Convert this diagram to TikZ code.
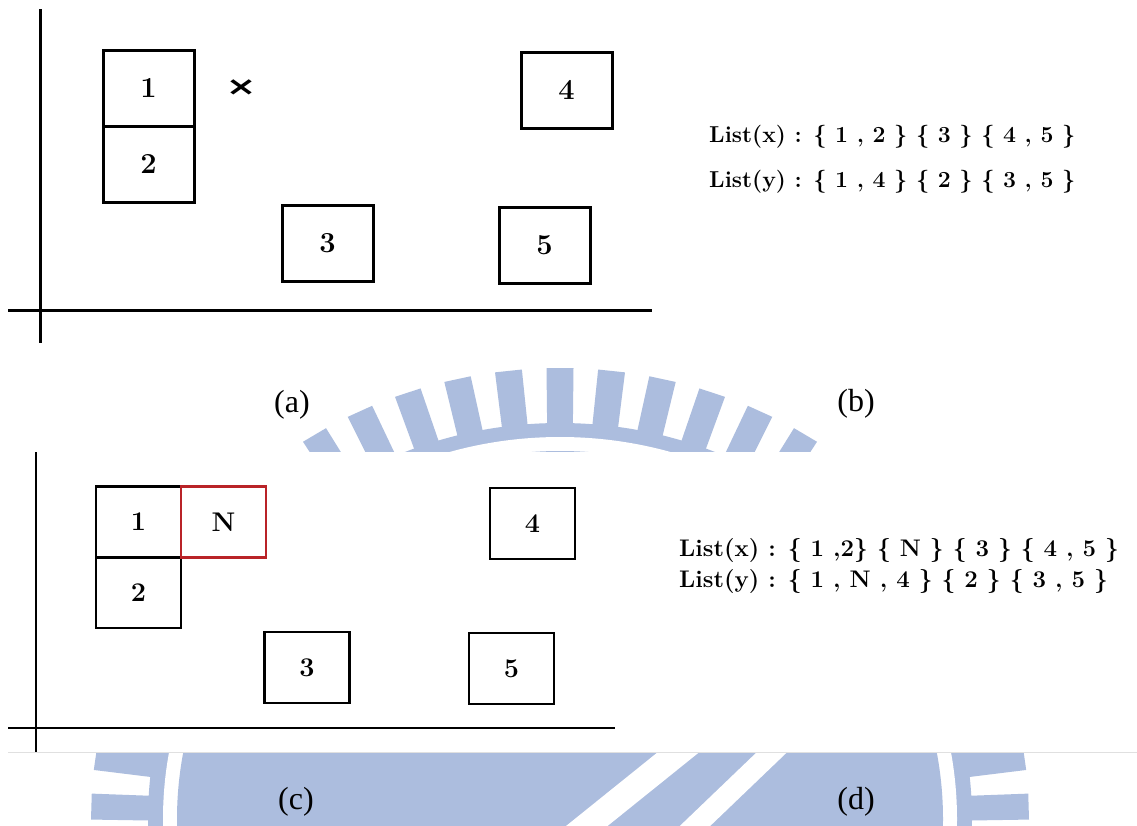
\documentclass[tikz,border=0pt]{standalone}
\usepackage{fontspec}
\newfontfamily\capfont{Liberation Serif}
\newfontfamily\symfont{DejaVu Sans}
\definecolor{wm}{RGB}{172,189,222}
\definecolor{newred}{RGB}{185,35,40}
\begin{document}
\begin{tikzpicture}[x=1pt,y=-1pt,
  axis/.style={line width=3pt, black},
  cell/.style={draw=black, line width=3pt, inner sep=0pt,
    minimum width=91pt, minimum height=76pt,
    font=\fontsize{29}{29}\selectfont\bfseries},
  smallcell/.style={cell, line width=2.8pt, minimum width=85pt, minimum height=71pt,
    font=\fontsize{27}{27}\selectfont\bfseries},
  listtxt/.style={anchor=west, inner sep=0pt, font=\fontsize{23}{23}\selectfont\bfseries},
  biglist/.style={listtxt, font=\fontsize{24}{24}\selectfont\bfseries},
  caption/.style={inner sep=0pt, font=\capfont\fontsize{32}{32}\selectfont},
  crossmark/.style={inner sep=0pt, font=\symfont\fontsize{26}{26}\selectfont\bfseries},
]
\useasboundingbox (0,0) rectangle (1137,825);
\fill[white] (0,0) rectangle (1137,825);

% faint seal behind the page
\begin{scope}[shift={(560,819)}]
  \fill[wm] (0,0) ellipse [x radius=412, y radius=396];
  \fill[white] (0,0) ellipse [x radius=397, y radius=382];
  \fill[wm] (0,0) ellipse [x radius=383, y radius=368];
  \begin{scope}
    \clip (0,0) ellipse [x radius=383, y radius=368];
    \draw[white, line width=26pt] (376,-274) -- (-233,216);
    \draw[white, line width=21pt] (428,-274) -- (-83,216);
  \end{scope}
  \foreach \k in {0,...,56}{
    \pgfmathsetmacro\a{270+6.3158*\k}
    \fill[wm] (\a-1.8:410 and 394) -- (\a-1.65:469 and 451)
      -- (\a+1.65:469 and 451) -- (\a+1.8:410 and 394) -- cycle;
  }
\end{scope}

% ---------- (a) ----------
\coordinate (ay0) at (40,9);   \coordinate (ay1) at (40,343);
\coordinate (ax0) at (8,310);  \coordinate (ax1) at (652,310);
\draw[axis] (ay0) -- (ay1);
\draw[axis] (ax0) -- (ax1);
\node[cell] (a1) at (148.5,88) {1};
\node[cell] (a2) at (148.5,164) {2};
\node[cell] (a3) at (327.5,243.5) {3};
\node[cell] (a4) at (566.5,90) {4};
\node[cell] (a5) at (544.5,245) {5};
\node[crossmark] (cross) at (241,88) {\scalebox{1.4}[1]{×}};

% ---------- (b) ----------
\node[listtxt] (bx) at (709,137) {List(x) : \{ 1 , 2 \} \{ 3 \} \{ 4 , 5 \}};
\node[listtxt] (by) at (709,182) {List(y) : \{ 1 , 4 \} \{ 2 \} \{ 3 , 5 \}};

\node[caption] (capa) at (292,405) {(a)};
\node[caption] (capb) at (856,404) {(b)};

% ---------- lower panel ----------
\fill[white] (8,452) rectangle (1137,752);
\draw[black!12, line width=1pt] (8,752) -- (1137,752);

% ---------- (c) ----------
\coordinate (cy0) at (36,452);  \coordinate (cy1) at (36,752);
\coordinate (cx0) at (8,728);   \coordinate (cx1) at (615,728);
\draw[axis, line width=2.8pt] (cy0) -- (cy1);
\draw[axis, line width=2.8pt] (cx0) -- (cx1);
\node[smallcell] (c1) at (138.5,522) {1};
\node[smallcell] (c2) at (138.5,592.5) {2};
\node[smallcell] (c3) at (307,667.5) {3};
\node[smallcell] (c4) at (532.5,523.5) {4};
\node[smallcell] (c5) at (511.5,668.5) {5};
\node[smallcell, draw=newred] (cn) at (223.5,522) {N};

% ---------- (d) ----------
\node[biglist] (dx) at (679,551) {List(x) : \{ 1 ,2\} \{ N \} \{ 3 \} \{ 4 , 5 \}};
\node[biglist] (dy) at (679,582) {List(y) : \{ 1 , N , 4 \} \{ 2 \} \{ 3 , 5 \}};

\node[caption] (capc) at (296,802) {(c)};
\node[caption] (capd) at (856,802) {(d)};
\end{tikzpicture}
\end{document}
